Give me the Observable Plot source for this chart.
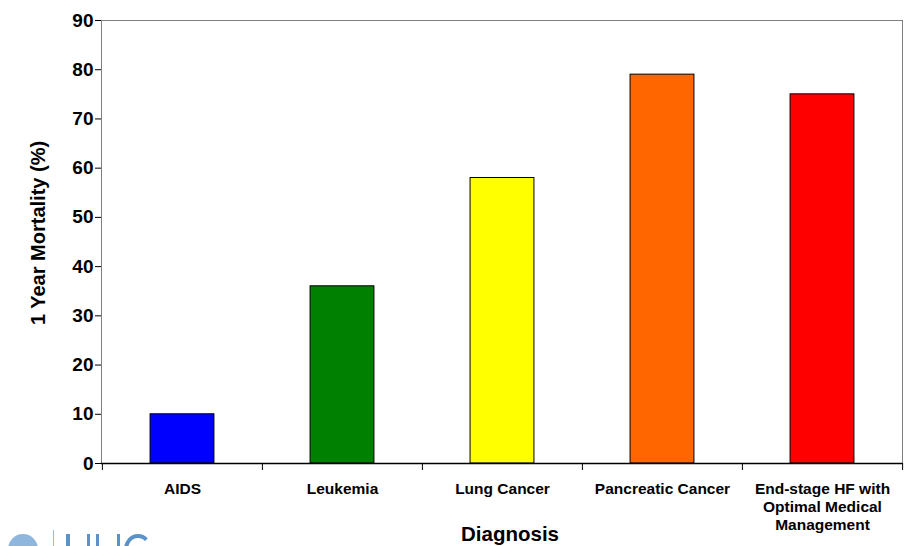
<!DOCTYPE html>
<html>
<head>
<meta charset="utf-8">
<script src="https://cdn.jsdelivr.net/npm/d3@7"></script>
<script src="https://cdn.jsdelivr.net/npm/@observablehq/plot@0.6"></script>
<style>
  html, body { margin: 0; padding: 0; background: #fff; overflow: hidden; }
  #wrap { position: relative; width: 920px; height: 546px; }
  #logo { position: absolute; left: 0; top: 526px; width: 200px; height: 20px; overflow: hidden; }
  #logo .well { position: absolute; left: 8px; top: 8px; width: 30px; height: 30px; border-radius: 50%; background: #8fb6dc; }
  #logo .bar { position: absolute; left: 53px; top: 4px; width: 1px; height: 30px; background: #9bbbd8; }
  #logo .u { position: absolute; left: 66px; top: 8px; width: 24px; height: 30px; border-left: 4px solid #5b93c9; border-right: 3px solid #5b93c9; box-sizing: border-box; }
  #logo .n { position: absolute; left: 96px; top: 8px; width: 24px; height: 30px; border-left: 3px solid #5b93c9; border-right: 3px solid #5b93c9; box-sizing: border-box; }
  #logo .c { position: absolute; left: 124px; top: 8px; width: 28px; height: 30px; border: 4px solid #5b93c9; border-right-color: transparent; border-radius: 50%; box-sizing: border-box; }
</style>
</head>
<body>
<div id="wrap">
  <div id="chart"></div>
  <div id="logo"><div class="well"></div><div class="bar"></div><div class="u"></div><div class="n"></div><div class="c"></div></div>
</div>
<script>
const categories = ["AIDS", "Leukemia", "Lung Cancer", "Pancreatic Cancer", "End-stage HF with\nOptimal Medical\nManagement"];
const mortality = [10, 36, 58, 79, 75];
const colors = ["#0000FF", "#008000", "#FFFF00", "#FF6600", "#FF0000"];
const yTicks = [0, 10, 20, 30, 40, 50, 60, 70, 80, 90];

const data = categories.map((c, i) => ({diagnosis: c, value: mortality[i], color: colors[i]}));

const W = 920, H = 546, mL = 101, mR = 18, mT = 20, mB = 83;
const bw = (W - mL - mR) / categories.length;
const inset = bw * 0.3;
const font = "'Liberation Sans', Arial, sans-serif";

const chart = Plot.plot({
  width: W,
  height: H,
  marginLeft: mL,
  marginRight: mR,
  marginTop: mT,
  marginBottom: mB,
  style: {fontFamily: font, background: "#fff", color: "#000"},
  x: {domain: categories, paddingInner: 0, paddingOuter: 0, label: null},
  y: {domain: [0, 90], label: null},
  marks: [
    Plot.frame({stroke: "#808080", strokeWidth: 1}),
    Plot.barY(data, {x: "diagnosis", y: "value", fill: "color", stroke: "#000", strokeWidth: 1, insetLeft: inset, insetRight: inset}),
    Plot.ruleY([0], {stroke: "#000", strokeWidth: 1.5}),
    Plot.ruleX(categories, {x: d => d, y1: 0, y2: 0, insetBottom: -7, dx: -bw / 2, stroke: "#000"}),
    Plot.ruleX(categories.slice(-1), {x: d => d, y1: 0, y2: 0, insetBottom: -7, dx: bw / 2, stroke: "#000"}),
    Plot.axisY({ticks: yTicks, tickSize: 6, tickPadding: 2, line: true, fontSize: 19, fontWeight: "bold", label: null, stroke: "#000"}),
    Plot.axisX({tickSize: 0, tickPadding: 17, fontSize: 15.5, fontWeight: "bold", lineHeight: 1.18, label: null}),
    Plot.text(["1 Year Mortality (%)"], {frameAnchor: "left", textAnchor: "middle", dx: -63, dy: -9, rotate: -90, fontSize: 20, fontWeight: "bold", text: d => d}),
    Plot.text(["Diagnosis"], {frameAnchor: "bottom", dy: 77, dx: 8, fontSize: 20.5, fontWeight: "bold", text: d => d})
  ]
});
document.getElementById("chart").appendChild(chart);
</script>
</body>
</html>
